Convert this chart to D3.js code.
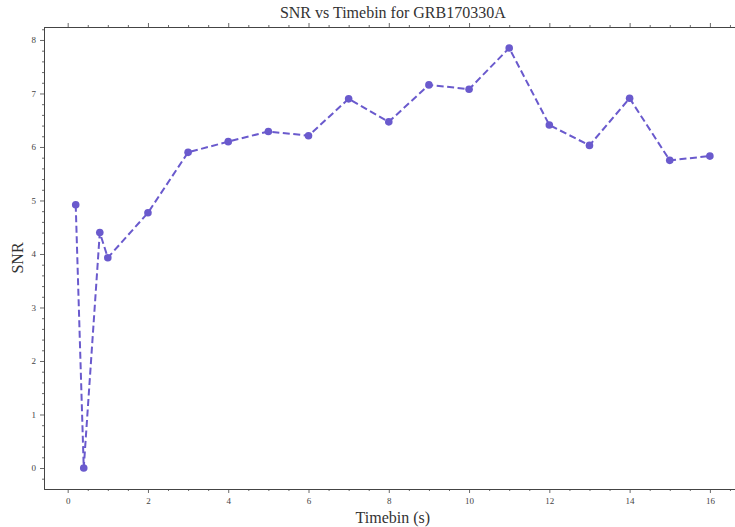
<!DOCTYPE html>
<html>
<head>
<meta charset="utf-8">
<script src="https://cdn.jsdelivr.net/npm/d3@7"></script>
<style>
  body { margin: 0; background: #fff; }
  svg text { font-family: "Liberation Serif", "DejaVu Serif", serif; }
</style>
</head>
<body>
<div id="chart"></div>
<script>
// Data
const timebins = [0.2, 0.4, 0.8, 1, 2, 3, 4, 5, 6, 7, 8, 9, 10, 11, 12, 13, 14, 15, 16];
const snr = [4.92, 0, 4.40, 3.93, 4.77, 5.90, 6.10, 6.29, 6.21, 6.90, 6.47, 7.16, 7.08, 7.85, 6.41, 6.03, 6.91, 5.75, 5.83];
const xTicks = [0, 2, 4, 6, 8, 10, 12, 14, 16];
const yTicks = [0, 1, 2, 3, 4, 5, 6, 7, 8];
const titleText = "SNR vs Timebin for GRB170330A";

const W = 735, H = 527;
const margin = {top: 27, left: 44, bottom: 38};
const color = "#6a5acd";

const svg = d3.select("#chart").append("svg")
  .attr("width", W).attr("height", H);

// matplotlib-like 5% padding
const xmin = d3.min(timebins), xmax = d3.max(timebins);
const ymin = d3.min(snr), ymax = d3.max(snr);
const xpad = (xmax - xmin) * 0.05, ypad = (ymax - ymin) * 0.05;
const plotRight = 741.6;

const x = d3.scaleLinear().domain([xmin - xpad, xmax + xpad]).range([margin.left, plotRight]);
const y = d3.scaleLinear().domain([ymin - ypad, ymax + ypad]).range([H - margin.bottom, margin.top]);

const g = svg.append("g");

// minor ticks
const xMinor = d3.range(0, 17, 0.5).filter(v => v % 2 !== 0);
const yMinor = d3.range(-0.2, 8.21, 0.2).map(v => +v.toFixed(1)).filter(v => Math.abs(v - Math.round(v)) > 1e-6);

function axisStyle(sel) {
  sel.select(".domain").attr("stroke", "#444").attr("stroke-width", 1);
  sel.selectAll(".tick line").attr("stroke", "#444").attr("stroke-width", 0.8);
  sel.selectAll(".tick text").attr("fill", "#444").style("font-size", "9px");
}

// bottom
g.append("g").attr("transform", `translate(0,${H - margin.bottom})`)
  .call(d3.axisBottom(x).tickValues(xTicks).tickSize(4).tickSizeOuter(0).tickPadding(5))
  .call(axisStyle);
g.append("g").attr("transform", `translate(0,${H - margin.bottom})`)
  .call(d3.axisBottom(x).tickValues(xMinor).tickSize(2).tickSizeOuter(0).tickFormat(""))
  .call(axisStyle);
// top
g.append("g").attr("transform", `translate(0,${margin.top})`)
  .call(d3.axisTop(x).tickValues(xTicks).tickSize(4).tickSizeOuter(0).tickFormat(""))
  .call(axisStyle);
g.append("g").attr("transform", `translate(0,${margin.top})`)
  .call(d3.axisTop(x).tickValues(xMinor).tickSize(2).tickSizeOuter(0).tickFormat(""))
  .call(axisStyle);
// left
g.append("g").attr("transform", `translate(${margin.left},0)`)
  .call(d3.axisLeft(y).tickValues(yTicks).tickSize(4).tickSizeOuter(0).tickPadding(4))
  .call(axisStyle);
g.append("g").attr("transform", `translate(${margin.left},0)`)
  .call(d3.axisLeft(y).tickValues(yMinor).tickSize(2).tickSizeOuter(0).tickFormat(""))
  .call(axisStyle);

// line + markers
const pts = timebins.map((t, i) => [t, snr[i]]);
g.append("path")
  .datum(pts)
  .attr("fill", "none")
  .attr("stroke", color)
  .attr("stroke-width", 2)
  .attr("stroke-dasharray", "7,3.5")
  .attr("d", d3.line().x(d => x(d[0])).y(d => y(d[1])));

g.selectAll("circle.pt")
  .data(pts)
  .join("circle").classed("pt", true)
  .attr("cx", d => x(d[0]))
  .attr("cy", d => y(d[1]))
  .attr("r", 3.8)
  .attr("fill", color);

// labels
const cx = (margin.left + plotRight) / 2;
svg.append("text")
  .attr("x", cx).attr("y", 18)
  .attr("text-anchor", "middle")
  .style("font-size", "16px")
  .attr("fill", "#333")
  .text(titleText);

svg.append("text")
  .attr("x", cx).attr("y", 523)
  .attr("text-anchor", "middle")
  .style("font-size", "16px")
  .attr("fill", "#333")
  .text("Timebin (s)");

svg.append("text")
  .attr("transform", `translate(23,${(margin.top + H - margin.bottom) / 2}) rotate(-90)`)
  .attr("text-anchor", "middle")
  .style("font-size", "16px")
  .attr("fill", "#333")
  .text("SNR");
</script>
</body>
</html>
